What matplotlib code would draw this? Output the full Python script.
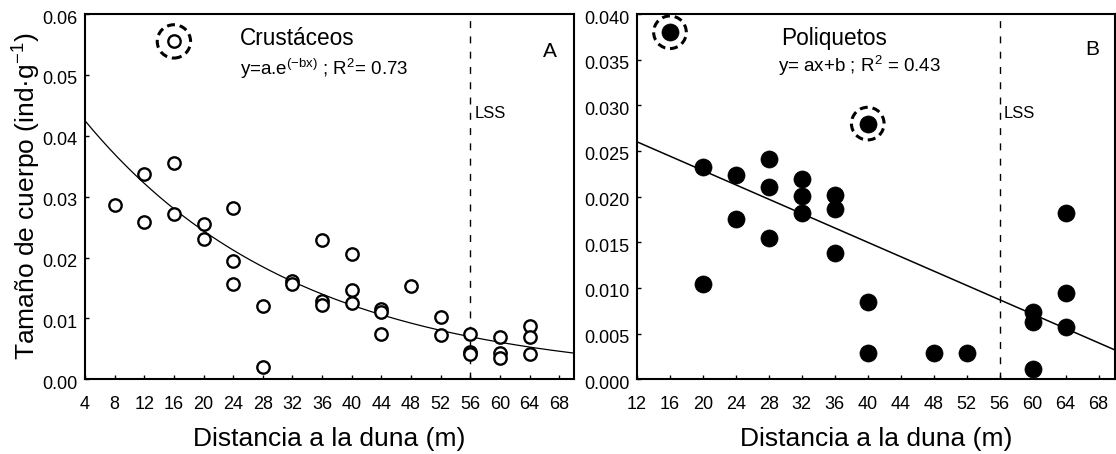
import numpy as np
import matplotlib
matplotlib.use("Agg")
import matplotlib.pyplot as plt
from matplotlib.transforms import ScaledTranslation

plt.rcParams["font.family"] = ["Liberation Sans", "DejaVu Sans"]
plt.rcParams["mathtext.fontset"] = "custom"
plt.rcParams["mathtext.rm"] = "Liberation Sans"
plt.rcParams["mathtext.it"] = "Liberation Sans"
plt.rcParams["mathtext.default"] = "regular"

# ---- Crustáceos (panel A) ----
crust_x = [8, 12, 12, 16, 16, 20, 20, 24, 24, 24, 28, 28, 32, 32,
           36, 36, 36, 40, 40, 40, 44, 44, 44, 48, 52, 52,
           56, 56, 56, 60, 60, 60, 64, 64, 64]
crust_y = [0.0287, 0.0338, 0.0259, 0.0356, 0.0272, 0.0255, 0.0231,
           0.0281, 0.0195, 0.0156, 0.0121, 0.0020, 0.0162, 0.0157,
           0.0229, 0.0128, 0.0122, 0.0206, 0.0146, 0.0126,
           0.0115, 0.0110, 0.0075, 0.0153, 0.0103, 0.0073,
           0.0075, 0.0045, 0.0041, 0.0069, 0.0043, 0.0035,
           0.0087, 0.0070, 0.0041]
crust_out_x = [16]
crust_out_y = [0.0555]
crust_fit_a = 0.0488
crust_fit_b = 0.0347

# ---- Poliquetos (panel B) ----
poli_x = [20, 20, 24, 24, 28, 28, 28, 32, 32, 32, 36, 36, 36,
          40, 40, 48, 52, 60, 60, 60, 64, 64, 64]
poli_y = [0.0232, 0.0104, 0.0224, 0.0175, 0.0241, 0.0211, 0.0155,
          0.0219, 0.0201, 0.0182, 0.0202, 0.0186, 0.0138,
          0.0085, 0.0029, 0.0029, 0.0029, 0.0074, 0.0063, 0.0011,
          0.0182, 0.0094, 0.0057]
poli_out_x = [16, 40]
poli_out_y = [0.0380, 0.0280]
poli_slope = -0.000393
poli_icpt = 0.03072

lss_x = 56

W, H = 1116, 454
fig = plt.figure(figsize=(W / 100, H / 100), dpi=100)


def px_axes(left, right, top, bottom):
    return fig.add_axes([left / W, (H - bottom) / H, (right - left) / W, (bottom - top) / H])


axA = px_axes(85, 574, 14, 379.3)
axB = px_axes(637, 1115, 14, 379.3)

lss_shift = ScaledTranslation(0.04, 0, fig.dpi_scale_trans)
for ax in (axA, axB):
    for sp in ax.spines.values():
        sp.set_linewidth(1.5)
    ax.tick_params(direction="in", length=3, width=1, top=False, right=False,
                   labelsize=13)
    ax.tick_params(axis="x", pad=12)
    ax.tick_params(axis="y", pad=5.5)
    ax.axvline(lss_x, color="black", lw=1.0, ls=(0, (5, 6)), zorder=1)
    ax.text(lss_x, 0.715, "LSS", transform=ax.get_xaxis_transform() + lss_shift,
            fontsize=12, va="baseline", ha="left")

# Panel A
axA.set_xlim(4, 70)
axA.set_ylim(0, 0.06)
axA.set_xticks(np.arange(4, 69, 4))
axA.set_yticks(np.arange(0, 0.0601, 0.01))
axA.set_yticklabels([f"{v:.2f}" for v in np.arange(0, 0.0601, 0.01)])
xs = np.linspace(4, 70, 300)
axA.plot(xs, crust_fit_a * np.exp(-crust_fit_b * xs), color="black", lw=0.9, zorder=2)
axA.plot(crust_x + crust_out_x, crust_y + crust_out_y, "o", ms=8.9,
         mfc="white", mec="black", mew=1.7, zorder=3)
axA.scatter(crust_out_x, crust_out_y, s=24 ** 2, facecolors="none",
            edgecolors="black", linewidths=2.2, linestyles=(0, (2.6, 1.6)), zorder=4)
axA.text(0.317, 0.915, "Crustáceos", transform=axA.transAxes, fontsize=16.3,
         va="baseline")
axA.text(0.317, 0.833, r"y=a.e$^{(-bx)}$ ; R$^{2}$= 0.73", transform=axA.transAxes,
         fontsize=13.5, va="baseline")
axA.text(0.937, 0.882, "A", transform=axA.transAxes, fontsize=15, va="baseline")

# Panel B
axB.set_xlim(12, 70)
axB.set_ylim(0, 0.04)
axB.set_xticks(np.arange(12, 69, 4))
axB.set_yticks(np.arange(0, 0.0401, 0.005))
axB.set_yticklabels([f"{v:.3f}" for v in np.arange(0, 0.0401, 0.005)])
xl = np.array([12, 70])
axB.plot(xl, poli_slope * xl + poli_icpt, color="black", lw=1.1, zorder=2)
axB.plot(poli_x + poli_out_x, poli_y + poli_out_y, "o", ms=12.3,
         mfc="black", mec="black", mew=0.5, zorder=3)
axB.scatter(poli_out_x, poli_out_y, s=23.5 ** 2, facecolors="none",
            edgecolors="black", linewidths=2.2, linestyles=(0, (2.6, 1.6)), zorder=4)
axB.text(0.3025, 0.915, "Poliquetos", transform=axB.transAxes, fontsize=16.3,
         va="baseline")
axB.text(0.295, 0.841, r"y= ax+b ; R$^{2}$ = 0.43", transform=axB.transAxes,
         fontsize=13.5, va="baseline")
axB.text(0.937, 0.888, "B", transform=axB.transAxes, fontsize=15, va="baseline")

# shift y tick labels slightly downward
shift = ScaledTranslation(0, -0.03, fig.dpi_scale_trans)
for ax in (axA, axB):
    for lab in ax.get_yticklabels():
        lab.set_transform(lab.get_transform() + shift)

# axis titles
for ax, cx in ((axA, (85 + 574) / 2), (axB, (637 + 1115) / 2)):
    fig.text(cx / W, (H - 446) / H, "Distancia a la duna (m)", fontsize=19,
             ha="center", va="baseline")
fig.text(27 / W, (H - 196) / H, r"Tamaño de cuerpo (ind·g$^{-1}$)", fontsize=19,
         rotation=90, ha="center", va="center")

fig.savefig("out.png", dpi=100, facecolor="white")
